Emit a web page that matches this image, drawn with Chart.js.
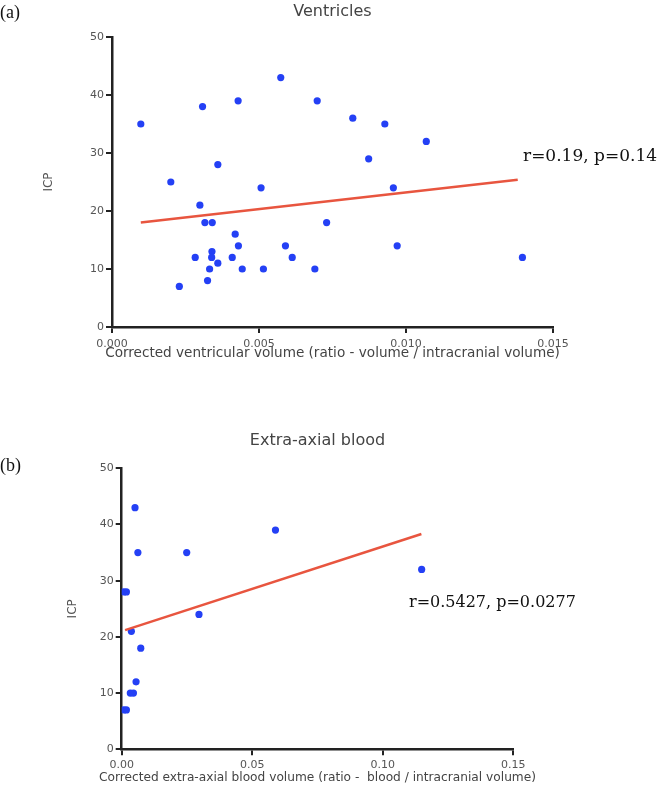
<!DOCTYPE html>
<html><head><meta charset="utf-8">
<script src="https://cdn.jsdelivr.net/npm/chart.js@4.4.1/dist/chart.umd.min.js"></script>
<style>
html,body{margin:0;padding:0;background:#fff;}
#wrap{position:relative;width:663px;height:794px;overflow:hidden;background:#fff;}
canvas{position:absolute;left:0;}
.lbl{position:absolute;line-height:1;white-space:nowrap;color:#111;}
</style></head><body>
<div id="wrap">
<canvas id="c1" width="663" height="380" style="top:0px"></canvas>
<canvas id="c2" width="663" height="394" style="top:400px"></canvas>
<div class="lbl" style="left:0px;top:3px;font-family:'Liberation Serif';font-size:18px;">(a)</div>
<div class="lbl" style="left:0px;top:456px;font-family:'Liberation Serif';font-size:18px;">(b)</div>
<div class="lbl" style="left:523px;top:147px;font-family:'DejaVu Serif';font-size:17px;">r=0.19, p=0.14</div>
<div class="lbl" style="left:409px;top:594px;font-family:'DejaVu Serif';font-size:16px;">r=0.5427, p=0.0277</div>
</div>
<script>
// ---- Data (a) Ventricles ----
const ventX = [0.00098,0.0020,0.00229,0.00283,0.00299,0.00308,0.00316,0.00341,0.00325,0.00332,0.0034,0.00339,0.0036,0.0036,0.00409,0.00419,0.0043,0.00429,0.00443,0.00507,0.00515,0.00574,0.0059,0.00613,0.0069,0.00698,0.00819,0.00928,0.00873,0.01069,0.00957,0.0073,0.0097,0.01396];
const ventY = [35,25,7,12,21,38,18,18,8,10,13,12,11,28,12,16,14,39,10,24,10,43,14,12,10,39,36,35,29,32,24,18,14,12];
const ventFitX = [0.00098, 0.0138];
const ventFitY = [18.0, 25.4];
const ventXTicks = ['0.000','0.005','0.010','0.015'];
const ventYTicks = ['0','10','20','30','40','50'];

// ---- Data (b) Extra-axial blood ----
const bloodX = [0.0051,0.0062,0.0008,0.0018,0.0037,0.0073,0.0055,0.0033,0.0045,0.0008,0.0018,0.0249,0.0296,0.0589,0.1149];
const bloodY = [43,35,28,28,21,18,12,10,10,7,7,35,24,39,32];
const bloodFitX = [0.0013, 0.1148];
const bloodFitY = [21.2, 38.3];
const bloodXTicks = ['0.00','0.05','0.10','0.15'];
const bloodYTicks = ['0','10','20','30','40','50'];

const DOT = 'rgb(36,64,245)';
const FIT = '#e8553f';
const AXIS = '#222';
const TXT = '#555';
const SANS = 'DejaVu Sans';

function pts(xs, ys){ return xs.map((x,i)=>({x:x, y:ys[i]})); }
function lab(list){ return (v)=>{ const t = list.find(s=>Math.abs(parseFloat(s)-v)<1e-9); return t===undefined?'':t; }; }

// draws the x-axis title centred under the plot without width squeezing
const xTitlePlugin = {
  id:'xTitleFree',
  afterDraw(chart, args, opts){
    const ctx = chart.ctx, a = chart.chartArea;
    ctx.save();
    ctx.font = opts.size + 'px "' + SANS + '"';
    ctx.fillStyle = '#444';
    ctx.textAlign = 'center';
    ctx.textBaseline = 'middle';
    ctx.fillText(opts.text, (a.left + a.right) / 2, opts.y);
    ctx.restore();
  }
};

function make(id, o){
  return new Chart(document.getElementById(id), {
    type:'scatter',
    plugins:[xTitlePlugin],
    data:{datasets:[
      {type:'line', data:pts(o.fitX,o.fitY), borderColor:FIT, borderWidth:2.5, pointRadius:0, fill:false, tension:0},
      {data:pts(o.x,o.y), backgroundColor:DOT, borderWidth:0, pointRadius:3.6, pointHoverRadius:3.6}
    ]},
    options:{
      responsive:false, animation:false, devicePixelRatio:1,
      layout:{padding:{left:0,right:o.padRight,top:0,bottom:0}},
      plugins:{
        legend:{display:false}, tooltip:{enabled:false},
        title:{display:true, text:o.title, fullSize:false, color:'#444',
          font:{family:SANS,size:16,weight:'normal'}, padding:{top:o.tTop,bottom:o.tBot}},
        xTitleFree:{text:o.xTitle, size:o.xTitleSize, y:o.xTitleY}
      },
      scales:{
        x:{type:'linear', position:'bottom', min:0, max:o.xMax,
          afterFit(s){ s.height = o.xH; },
          ticks:{stepSize:o.xStep, color:TXT, font:{family:SANS,size:11}, padding:o.xTickPad, maxRotation:0, autoSkip:false, callback:lab(o.xTicks)},
          grid:{display:true, drawOnChartArea:false, drawTicks:true, tickLength:6, color:AXIS, lineWidth:2},
          border:{display:true, color:AXIS, width:2.5},
          title:{display:false}
        },
        y:{type:'linear', position:'left', min:0, max:50,
          afterFit(s){ s.width = o.yW; },
          ticks:{stepSize:10, color:TXT, font:{family:SANS,size:11}, padding:2, callback:lab(o.yTicks)},
          grid:{display:true, drawOnChartArea:false, drawTicks:true, tickLength:6, color:AXIS, lineWidth:2},
          border:{display:true, color:AXIS, width:2.5},
          title:{display:true, text:'ICP', color:'#555', font:{family:SANS,size:12}, padding:{top:o.yTitlePad,bottom:0}}
        }
      }
    }
  });
}

make('c1', {x:ventX, y:ventY, fitX:ventFitX, fitY:ventFitY, xTicks:ventXTicks, yTicks:ventYTicks,
  title:'Ventricles', xTitle:'Corrected ventricular volume (ratio - volume / intracranial volume)',
  xMax:0.015, xStep:0.005, padRight:110, tTop:2.4, tBot:15.4, xH:53, xTickPad:4.5, xTitleSize:13.6, xTitleY:353.5, yW:112, yTitlePad:41.8});

make('c2', {x:bloodX, y:bloodY, fitX:bloodFitX, fitY:bloodFitY, xTicks:bloodXTicks, yTicks:bloodYTicks,
  title:'Extra-axial blood', xTitle:'Corrected extra-axial blood volume (ratio -  blood / intracranial volume)',
  xMax:0.15, xStep:0.05, padRight:149.7, tTop:31.1, tBot:18, xH:44.7, xTickPad:3, xTitleSize:12.2, xTitleY:378, yW:121.7, yTitlePad:65.8});
</script>
</body></html>
